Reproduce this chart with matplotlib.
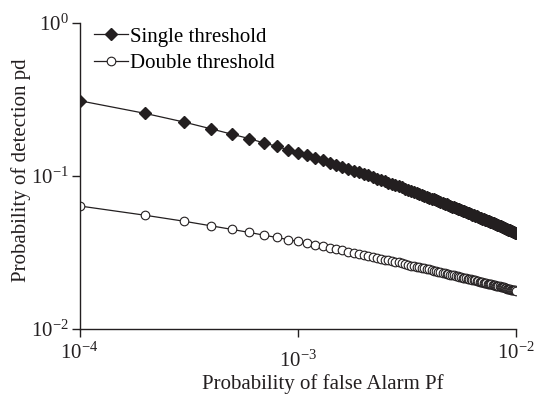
import numpy as np
import matplotlib
matplotlib.use("Agg")
import matplotlib.pyplot as plt
import matplotlib.transforms as mtransforms

plt.rcParams['font.family'] = 'Liberation Serif'
plt.rcParams['mathtext.fontset'] = 'custom'
plt.rcParams['mathtext.rm'] = 'Liberation Serif'
plt.rcParams['mathtext.it'] = 'Liberation Serif:italic'
plt.rcParams['axes.unicode_minus'] = False

# false alarm probability: 1e-4 ... 1e-2 in steps of 1e-4
pf = np.arange(1, 101) * 1e-4

# probability of detection, single threshold
pd_single = [
    0.310, 0.256, 0.225, 0.203, 0.187, 0.175, 0.164, 0.156, 0.148, 0.142,
    0.136, 0.131, 0.126, 0.122, 0.118, 0.1145, 0.1114, 0.1083, 0.1055, 0.1029,
    0.1005, 0.0983, 0.0960, 0.0940, 0.0921, 0.0903, 0.0886, 0.0869, 0.0854, 0.0839,
    0.0825, 0.0811, 0.0797, 0.0786, 0.0773, 0.0762, 0.0751, 0.0740, 0.0730, 0.0720,
    0.0710, 0.0701, 0.0692, 0.0683, 0.0675, 0.0666, 0.0659, 0.0651, 0.0643, 0.0636,
    0.0629, 0.0622, 0.0616, 0.0609, 0.0603, 0.0597, 0.0590, 0.0585, 0.0579, 0.0573,
    0.0568, 0.0563, 0.0558, 0.0552, 0.0547, 0.0542, 0.0538, 0.0533, 0.0528, 0.0524,
    0.0520, 0.0516, 0.0512, 0.0507, 0.0503, 0.0499, 0.0496, 0.0492, 0.0488, 0.0484,
    0.0481, 0.0477, 0.0474, 0.0470, 0.0467, 0.0464, 0.0460, 0.0457, 0.0454, 0.0451,
    0.0448, 0.0445, 0.0442, 0.0439, 0.0436, 0.0434, 0.0431, 0.0428, 0.0425, 0.0423,
]

# probability of detection, double threshold
pd_double = [
    0.0635, 0.0552, 0.0505, 0.0471, 0.0446, 0.0426, 0.0409, 0.0395, 0.0383, 0.0372,
    0.0362, 0.0353, 0.0345, 0.0338, 0.0331, 0.0325, 0.0319, 0.0314, 0.0308, 0.0304,
    0.0299, 0.0295, 0.0291, 0.0287, 0.0283, 0.0280, 0.0277, 0.0274, 0.0271, 0.0268,
    0.0265, 0.0262, 0.0259, 0.0257, 0.0255, 0.0252, 0.0250, 0.0248, 0.0246, 0.0244,
    0.0242, 0.0240, 0.0238, 0.0236, 0.0234, 0.0233, 0.0231, 0.0229, 0.0228, 0.0226,
    0.0225, 0.0223, 0.0222, 0.0220, 0.0219, 0.0218, 0.0216, 0.0215, 0.0214, 0.0212,
    0.0211, 0.0210, 0.0209, 0.0208, 0.0207, 0.0205, 0.0204, 0.0203, 0.0202, 0.0201,
    0.0200, 0.0199, 0.0198, 0.0197, 0.0196, 0.0195, 0.0195, 0.0194, 0.0193, 0.0192,
    0.0191, 0.0190, 0.0189, 0.0189, 0.0188, 0.0187, 0.0186, 0.0186, 0.0185, 0.0184,
    0.0183, 0.0182, 0.0182, 0.0181, 0.0180, 0.0180, 0.0179, 0.0178, 0.0178, 0.0177,
]

ink = '#231f20'

fig = plt.figure(figsize=(5.45, 3.96), dpi=100)
ax = fig.add_axes([0.146, 0.170, 0.801, 0.772])

ax.plot(pf, pd_single, color=ink, lw=0.9, marker='D', ms=6.5,
        mfc=ink, mec=ink, label='Single threshold')
ax.plot(pf, pd_double, color=ink, lw=0.9, marker='o', ms=6.2,
        mfc='white', mec=ink, mew=0.8, label='Double threshold')

ax.set_xscale('log')
ax.set_yscale('log')
ax.set_xlim(1e-4, 1e-2)
ax.set_ylim(1e-2, 1e0)
ax.minorticks_off()
ax.set_xticks([1e-4, 1e-3, 1e-2])
ax.set_yticks([1e-2, 1e-1, 1e0])

for s in ['top', 'right']:
    ax.spines[s].set_visible(False)
for s in ['left', 'bottom']:
    ax.spines[s].set_linewidth(1.0)
    ax.spines[s].set_color(ink)
ax.tick_params(direction='out', length=6, width=1.0, colors=ink,
               labelsize=15, labelcolor=ink)
ax.tick_params(axis='x', pad=4)
ax.tick_params(axis='y', pad=1.5)

# the middle x label sits a little lower in the original
lab = ax.get_xticklabels()[1]
lab.set_transform(lab.get_transform() + mtransforms.ScaledTranslation(0, -6 / 72, fig.dpi_scale_trans))

ax.set_xlabel('Probability of false Alarm Pf', fontsize=15, color=ink)
ax.xaxis.set_label_coords(0.558, -0.148)
ax.set_ylabel('Probability of detection pd', fontsize=15, color=ink)
ax.yaxis.set_label_coords(-0.112, 0.52)

ax.legend(loc='upper left', bbox_to_anchor=(0.034, 0.987), frameon=False,
          fontsize=15, handlelength=1.6, handletextpad=0.1, labelspacing=0.35,
          borderaxespad=0, borderpad=0)

fig.savefig('out.png', dpi=100)
